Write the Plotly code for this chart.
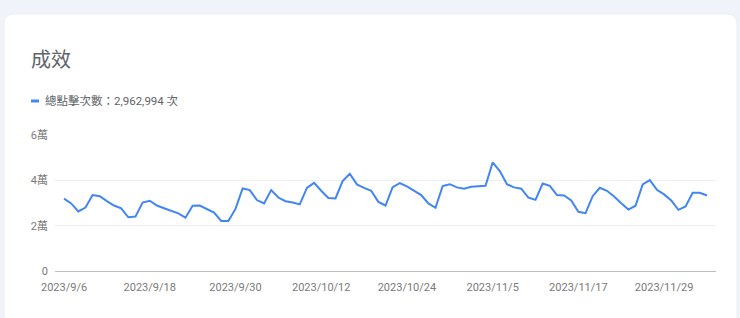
import datetime as dt
import plotly.graph_objects as go

start = dt.date(2023, 9, 6)
clicks = [
    31.9, 29.8, 26.3, 28.0, 33.5, 33.0, 30.8, 28.9, 27.6, 23.7,
    24.0, 30.2, 31.0, 28.9, 27.7, 26.5, 25.4, 23.5, 28.8, 28.9,
    27.4, 25.8, 22.1, 22.1, 27.4, 36.4, 35.7, 31.3, 29.8, 35.7,
    32.4, 30.8, 30.2, 29.4, 36.7, 38.9, 35.4, 32.2, 32.0, 39.7,
    42.9, 38.2, 36.7, 35.4, 30.5, 28.9, 37.0, 38.8, 37.3, 35.4,
    33.5, 29.8, 27.9, 37.5, 38.3, 36.9, 36.3, 37.2, 37.3, 37.6,
    47.9, 44.1, 38.3, 36.9, 36.3, 32.4, 31.4, 38.6, 37.6, 33.5,
    33.3, 31.1, 26.1, 25.5, 33.0, 36.7, 35.4, 32.9, 29.9, 27.1,
    28.8, 38.2, 40.1, 35.8, 33.8, 31.1, 27.0, 28.5, 34.5, 34.5,
    33.3,
]
clicks = [v * 1000 for v in clicks]
dates = [start + dt.timedelta(days=i) for i in range(len(clicks))]

x_tick_dates = ["2023-09-06", "2023-09-18", "2023-09-30", "2023-10-12",
                "2023-10-24", "2023-11-05", "2023-11-17", "2023-11-29"]
x_tick_text = ["2023/9/6", "2023/9/18", "2023/9/30", "2023/10/12",
               "2023/10/24", "2023/11/5", "2023/11/17", "2023/11/29"]
y_tick_vals = [0, 20000, 40000, 60000]
y_tick_text = ["0", "2萬", "4萬", "6萬"]

title_text = "成效"
legend_text = "總點擊次數：2,962,994 次"

FONT = "Roboto, 'Noto Sans CJK TC', sans-serif"
BLUE = "#4285f4"

fig = go.Figure()
fig.add_trace(go.Scatter(
    x=dates, y=clicks, mode="lines",
    line=dict(color=BLUE, width=2),
    hoverinfo="skip", showlegend=False,
))

W, H = 740, 318
ml, mr, mt, mb = 55, 24, 135, 47

fig.update_layout(
    width=W, height=H,
    margin=dict(l=ml, r=mr, t=mt, b=mb, pad=0),
    paper_bgcolor="#f1f3fa",
    plot_bgcolor="rgba(0,0,0,0)",
    font=dict(family=FONT, color="#757575", size=11),
    xaxis=dict(
        type="date",
        range=["2023-09-04 17:40", "2023-12-06 06:20"],
        tickvals=x_tick_dates, ticktext=x_tick_text,
        showgrid=False, zeroline=False,
        showline=True, linecolor="#bdbdbd", linewidth=1,
        ticks="", ticklabelstandoff=6,
        tickfont=dict(size=11, color="#7a7a7a"),
        fixedrange=True,
    ),
    yaxis=dict(
        range=[0, 60000],
        tickvals=y_tick_vals, ticktext=y_tick_text,
        showgrid=True, gridcolor="#eeeeee", gridwidth=1,
        zeroline=False, showline=False, ticks="",
        ticklabelstandoff=6,
        tickfont=dict(size=11, color="#7a7a7a"),
        fixedrange=True,
    ),
)

# white card with rounded corners (in pixel-derived paper coordinates)
def px(xp):
    return (xp - ml) / (W - ml - mr)

def py(yp):
    return (H - mb - yp) / (H - mt - mb)

x0, y0, x1, y1, r = 4, 14, 737, 330, 10
path = (
    f"M {px(x0)} {py(y0 + r)} "
    f"Q {px(x0)} {py(y0)} {px(x0 + r)} {py(y0)} "
    f"L {px(x1 - r)} {py(y0)} "
    f"Q {px(x1)} {py(y0)} {px(x1)} {py(y0 + r)} "
    f"L {px(x1)} {py(y1)} L {px(x0)} {py(y1)} Z"
)
fig.add_shape(type="path", path=path, xref="paper", yref="paper",
              fillcolor="#ffffff", line=dict(color="#eceef3", width=1),
              layer="below")

# legend marker
fig.add_shape(type="line", xref="paper", yref="paper",
              x0=px(31), x1=px(39), y0=py(101), y1=py(101),
              line=dict(color=BLUE, width=3))

fig.add_annotation(text=title_text, xref="paper", yref="paper",
                   x=px(29), y=py(60), xanchor="left", yanchor="middle",
                   showarrow=False,
                   font=dict(size=20, color="#606368", family=FONT))
fig.add_annotation(text=legend_text, xref="paper", yref="paper",
                   x=px(43), y=py(101), xanchor="left", yanchor="middle",
                   showarrow=False,
                   font=dict(size=11.5, color="#606368", family=FONT))

fig.write_html("out.html")
